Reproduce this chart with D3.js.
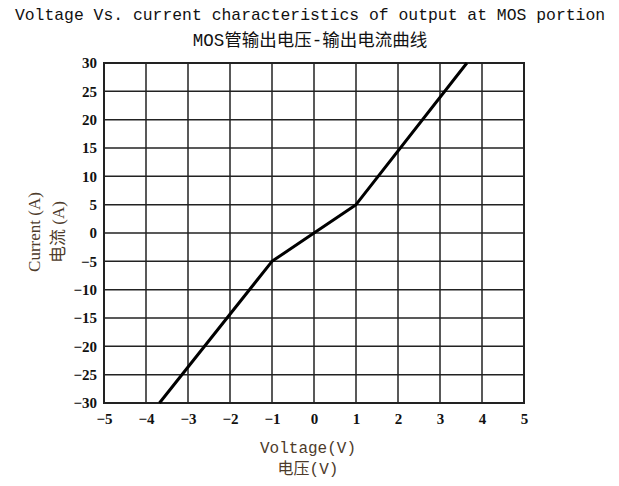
<!DOCTYPE html>
<html><head><meta charset="utf-8">
<script src="https://cdn.jsdelivr.net/npm/d3@7"></script>
<style>body{margin:0;background:#fff}</style>
</head><body>
<script>
const titleLines = ["Voltage Vs. current characteristics of output at MOS portion", "MOS管输出电压-输出电流曲线"];
const xLabelLines = ["Voltage(V)", "电压(V)"];
const yLabelLines = ["Current (A)", "电流 (A)"];
const xTicks = [-5,-4,-3,-2,-1,0,1,2,3,4,5];
const yTicks = [-30,-25,-20,-15,-10,-5,0,5,10,15,20,25,30];
const voltage = [-3.68,-1,0,1,3.64];
const current = [-30,-5,0,5,30];

const W=619,H=486;
const svg=d3.select("body").append("svg").attr("width",W).attr("height",H);
const x=d3.scaleLinear().domain([-5,5]).range([104,524]);
const y=d3.scaleLinear().domain([-30,30]).range([403,63]);
const mono="'Liberation Mono','DejaVu Sans Mono','Noto Sans CJK SC',monospace";

svg.selectAll("text.title").data(titleLines).enter().append("text")
  .attr("x",310).attr("y",(d,i)=>20+i*26).attr("text-anchor","middle")
  .attr("font-family",mono).attr("font-size",(d,i)=>i?17.5:16.4).attr("fill","#111").text(d=>d);

const g=svg.append("g");
g.selectAll("line.vg").data(xTicks).enter().append("line")
  .attr("x1",d=>x(d)).attr("x2",d=>x(d)).attr("y1",63).attr("y2",403)
  .attr("stroke","#222").attr("stroke-width",1.5);
g.selectAll("line.hg").data(yTicks).enter().append("line")
  .attr("y1",d=>y(d)).attr("y2",d=>y(d)).attr("x1",104).attr("x2",524)
  .attr("stroke","#222").attr("stroke-width",1.5);
g.append("rect").attr("x",104).attr("y",63).attr("width",420).attr("height",340)
  .attr("fill","none").attr("stroke","#222").attr("stroke-width",2);

const fmt=d=>d<0?"\u2212"+Math.abs(d):String(d);
const xAxis=d3.axisBottom(x).tickValues(xTicks).tickSize(0).tickPadding(0).tickFormat(fmt);
const xa=svg.append("g").attr("transform","translate(0,413)").call(xAxis);
const yAxis=d3.axisLeft(y).tickValues(yTicks).tickSize(0).tickPadding(0).tickFormat(fmt);
const ya=svg.append("g").attr("transform","translate(97,0)").call(yAxis);
[xa,ya].forEach(a=>{a.select(".domain").remove();
  a.selectAll("text").attr("font-family","'Liberation Serif','DejaVu Serif',serif")
   .attr("font-weight","bold").attr("font-size",15).attr("fill","#111");});
xa.selectAll("text").attr("dy","0.71em");

const pts=voltage.map((v,i)=>[v,current[i]]);
svg.append("path").datum(pts)
  .attr("d",d3.line().x(d=>x(d[0])).y(d=>y(d[1])))
  .attr("fill","none").attr("stroke","#000").attr("stroke-width",3).attr("stroke-linejoin","round");

svg.selectAll("text.xl").data(xLabelLines).enter().append("text")
  .attr("x",308).attr("y",(d,i)=>453+i*21).attr("text-anchor","middle")
  .attr("font-family",mono).attr("font-size",16).attr("fill","#4d3b2b").text(d=>d);
svg.selectAll("text.yl").data(yLabelLines).enter().append("text")
  .attr("transform",(d,i)=>`translate(${40+i*24},232) rotate(-90)`).attr("text-anchor","middle")
  .attr("font-family","'Liberation Serif','Noto Sans CJK SC',serif").attr("font-size",17).attr("fill","#4d3b2b").text(d=>d);
</script>
</body></html>
